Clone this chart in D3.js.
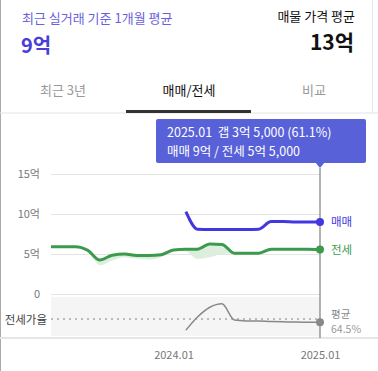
<!DOCTYPE html>
<html>
<head>
<meta charset="utf-8">
<script src="https://cdn.jsdelivr.net/npm/d3@7"></script>
<style>
  body { margin: 0; background: #fff; }
  svg { display: block; font-family: "Noto Sans CJK KR", "Noto Sans", sans-serif; }
</style>
</head>
<body>
<svg id="visualisation" width="378" height="371"></svg>
<script>
const months = ["2023.03","2023.04","2023.05","2023.06","2023.07","2023.08","2023.09","2023.10","2023.11","2023.12",
  "2024.01","2024.02","2024.03","2024.04","2024.05","2024.06","2024.07","2024.08","2024.09","2024.10","2024.11","2024.12","2025.01"]
const sale = [null,null,null,null,null,null,null,null,null,null,null,
  10.3,8.1,8.05,8.05,8.05,8.05,8.1,9.05,9.05,9.0,9.0,9.0]
const jeonse = [5.9,5.9,5.9,5.45,4.25,4.85,5.0,4.8,4.8,4.9,5.5,5.6,5.6,6.25,6.2,5.1,5.1,5.1,5.6,5.6,5.6,5.6,5.55]
const jeonseLow = [5.9,5.9,5.9,5.3,3.6,4.2,4.6,4.4,4.3,4.6,5.5,5.3,4.4,4.6,5.0,5.1,5.1,5.1,5.6,5.6,5.6,5.6,5.55]
const ratio = [null,null,null,null,null,null,null,null,null,null,null,
  53,66.5,76.5,80,63.5,62.5,62.3,61.8,61.5,61.3,61.2,61.1]
const ratioAvg = 64.5
const yTicks = [0, 5, 10, 15]
const xTicks = ["2024.01", "2025.01"]

const parse = d3.timeParse("%Y.%m")
const vis = d3.select("#visualisation")

const xScale = d3.scaleTime().domain([parse(months[0]), parse(months[months.length - 1])]).range([51, 320])
const yScale = d3.scaleLinear().domain([0, 15]).range([294, 174])
const rScale = d3.scaleLinear().domain([47, 87]).range([336, 297])

// header
vis.append("line").attr("x1", 0.5).attr("x2", 0.5).attr("y1", 0).attr("y2", 371).attr("stroke", "#aaa")
vis.append("line").attr("x1", 372.5).attr("x2", 372.5).attr("y1", 0).attr("y2", 113).attr("stroke", "#e6e6e6")
vis.append("text").attr("x", 22).attr("y", 23).attr("font-size", 13).attr("fill", "#6a5fdc").text("최근 실거래 기준 1개월 평균")
vis.append("text").attr("x", 21).attr("y", 53).attr("font-size", 20).attr("font-weight", "bold").attr("fill", "#4a3ed6").text("9억")
vis.append("text").attr("x", 355).attr("y", 21).attr("font-size", 13).attr("text-anchor", "end").attr("fill", "#111").text("매물 가격 평균")
vis.append("text").attr("x", 354).attr("y", 50).attr("font-size", 21).attr("font-weight", "bold").attr("text-anchor", "end").attr("fill", "#111").text("13억")

// tabs
const tabs = [{t: "최근 3년", x: 63, c: "#999"}, {t: "매매/전세", x: 189, c: "#111"}, {t: "비교", x: 314, c: "#999"}]
vis.selectAll(".tab").data(tabs).enter().append("text")
  .attr("x", d => d.x).attr("y", 95).attr("font-size", 13).attr("text-anchor", "middle")
  .attr("fill", d => d.c).text(d => d.t)
vis.append("rect").attr("x", 0).attr("y", 112.5).attr("width", 378).attr("height", 1).attr("fill", "#e3e3e3")
vis.append("rect").attr("x", 126).attr("y", 110).attr("width", 125).attr("height", 3).attr("fill", "#333")

// ratio background
vis.append("rect").attr("x", 51).attr("y", 297).attr("width", 269).attr("height", 39).attr("fill", "#f5f5f5")
vis.append("rect").attr("x", 0).attr("y", 337).attr("width", 378).attr("height", 2).attr("fill", "#e6e6e6")

// grid + y axis
const yAxis = d3.axisLeft(yScale).tickValues(yTicks).tickSize(-269).tickFormat(d => d === 0 ? "0" : d + "억")
const gy = vis.append("g").attr("transform", "translate(51,0)").call(yAxis)
gy.select(".domain").remove()
gy.selectAll(".tick line").attr("stroke", "#e4e4e4")
gy.selectAll(".tick text").attr("x", -11).attr("fill", "#777").attr("font-size", 11)
  .attr("font-family", "\"Noto Sans CJK KR\", sans-serif")

// x axis
const xAxis = d3.axisBottom(xScale).tickValues(xTicks.map(parse)).tickSize(0).tickFormat(d3.timeFormat("%Y.%m"))
const gx = vis.append("g").attr("transform", "translate(0,348)").call(xAxis)
gx.select(".domain").remove()
gx.selectAll(".tick text").attr("fill", "#777").attr("font-size", 11)
  .attr("font-family", "\"Noto Sans CJK KR\", sans-serif")

const rows = months.map((m, i) => ({date: parse(m), sale: sale[i], jeonse: jeonse[i], low: jeonseLow[i], ratio: ratio[i]}))

// jeonse band
const band = d3.area().x(d => xScale(d.date)).y0(d => yScale(d.low)).y1(d => yScale(d.jeonse)).curve(d3.curveMonotoneX)
vis.append("path").attr("d", band(rows)).attr("fill", "#dcefdf")

const lineGen = key => d3.line().defined(d => d[key] != null).x(d => xScale(d.date)).y(d => yScale(d[key])).curve(d3.curveMonotoneX)

vis.append("path").attr("d", lineGen("jeonse")(rows)).attr("stroke", "#3c9a4c").attr("stroke-width", 3).attr("fill", "none")
vis.append("path").attr("d", lineGen("sale")(rows)).attr("stroke", "#4338e0").attr("stroke-width", 3).attr("fill", "none")

// ratio
vis.append("line").attr("x1", 51).attr("x2", 320).attr("y1", rScale(ratioAvg)).attr("y2", rScale(ratioAvg))
  .attr("stroke", "#bbb").attr("stroke-width", 2).attr("stroke-dasharray", "2,4")
const ratioLine = d3.line().defined(d => d.ratio != null).x(d => xScale(d.date)).y(d => rScale(d.ratio)).curve(d3.curveMonotoneX)
vis.append("path").attr("d", ratioLine(rows)).attr("stroke", "#888").attr("stroke-width", 1.5).attr("fill", "none")
vis.append("text").attr("x", 47).attr("y", rScale(ratioAvg) + 1).attr("dy", "0.32em").attr("text-anchor", "end")
  .attr("font-size", 11.5).attr("fill", "#444").text("전세가율")

// hover line
const last = rows[rows.length - 1]
const lx = xScale(last.date)
vis.append("line").attr("x1", lx).attr("x2", lx).attr("y1", 168).attr("y2", 338).attr("stroke", "#666")

// end dots + labels
vis.append("circle").attr("cx", lx).attr("cy", yScale(last.sale)).attr("r", 4).attr("fill", "#4338e0")
vis.append("circle").attr("cx", lx).attr("cy", yScale(last.jeonse)).attr("r", 4).attr("fill", "#3c9a4c")
vis.append("circle").attr("cx", lx).attr("cy", rScale(last.ratio)).attr("r", 4).attr("fill", "#888")
vis.append("text").attr("x", 331).attr("y", yScale(last.sale)).attr("dy", "0.35em").attr("font-size", 11.5).attr("fill", "#4338e0").text("매매")
vis.append("text").attr("x", 331).attr("y", yScale(last.jeonse)).attr("dy", "0.35em").attr("font-size", 11.5).attr("fill", "#3c9a4c").text("전세")
vis.append("text").attr("x", 331).attr("y", 314.5).attr("dy", "0.35em").attr("font-size", 10.5).attr("fill", "#888").text("평균")
vis.append("text").attr("x", 331).attr("y", 329).attr("dy", "0.35em").attr("font-size", 10.5).attr("fill", "#999").text(ratioAvg + "%")

// tooltip
const tip = vis.append("g")
tip.append("rect").attr("x", 156).attr("y", 119).attr("width", 210).attr("height", 44).attr("rx", 2).attr("fill", "#5961d9")
tip.append("path").attr("d", `M${lx - 5},162 L${lx},168 L${lx + 5},162 Z`).attr("fill", "#5961d9")
tip.append("text").attr("x", 167).attr("y", 137).attr("font-size", 12.5).attr("fill", "#fff").attr("xml:space", "preserve")
  .text("2025.01  갭 3억 5,000 (61.1%)")
tip.append("text").attr("x", 167).attr("y", 156).attr("font-size", 12.5).attr("fill", "#fff")
  .text("매매 9억 / 전세 5억 5,000")
</script>
</body>
</html>
